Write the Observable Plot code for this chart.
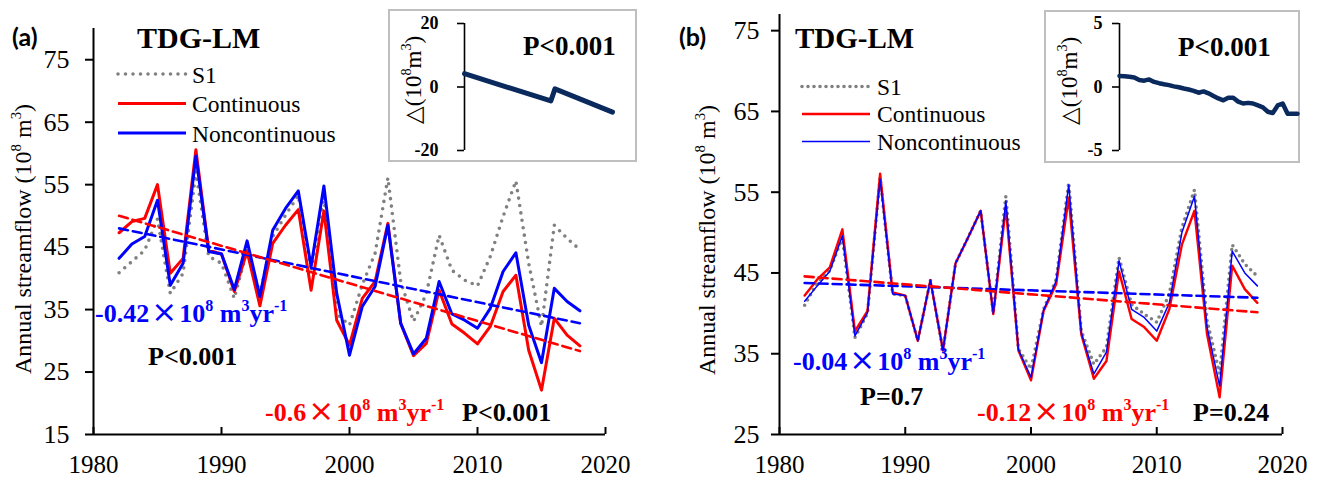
<!DOCTYPE html>
<html><head><meta charset="utf-8">
<script src="https://cdn.jsdelivr.net/npm/d3@7"></script>
<script src="https://cdn.jsdelivr.net/npm/@observablehq/plot@0.6"></script>
<style>
body{margin:0;background:#fff;}
#root{position:relative;width:1321px;height:479px;overflow:hidden;background:#fff;font-family:'Liberation Serif','Times New Roman',serif;}
.abs{position:absolute;}
.box{position:absolute;box-sizing:border-box;border:2px solid #bfbfbf;background:#fff;}
svg text{font-family:'Liberation Serif','Times New Roman',serif;}
</style></head><body><div id="root"></div>
<script>
// ---------- data ----------
const years = [1982,1983,1984,1985,1986,1987,1988,1989,1990,1991,1992,1993,1994,1995,1996,1997,1998,1999,2000,2001,2002,2003,2004,2005,2006,2007,2008,2009,2010,2011,2012,2013,2014,2015,2016,2017,2018];
// Panel (a)
const s1A   = [40.9,42.7,44.5,49.5,37.6,40.8,57.1,43.5,42.4,36.8,44.5,37.5,46.7,50.1,53.3,41.1,53.1,34.3,32.5,39.0,44.0,56.1,39.5,33.1,37.5,46.9,41.3,39.7,38.8,43.5,49.9,55.6,42.4,32.3,48.5,46.4,44.6];
const contA = [47.3,49.1,49.6,55.0,40.8,43.2,60.6,44.5,43.9,37.9,44.3,35.6,45.6,48.5,51.0,38.1,50.8,33.3,29.3,36.8,39.5,48.8,32.8,27.6,29.6,38.1,32.7,31.2,29.5,32.3,37.9,40.5,28.5,22.1,33.6,30.9,29.2];
const nonA  = [43.2,45.5,46.7,52.5,38.9,42.4,59.6,44.3,43.9,38.2,46.0,37.1,47.7,51.2,54.0,41.9,54.8,37.6,27.7,35.5,38.7,48.5,32.8,27.9,30.4,39.5,34.3,33.3,32.0,35.2,41.1,44.1,32.5,26.5,38.4,36.3,34.8];
// Panel (b)
const s1B   = [41.0,43.8,45.3,49.4,37.0,40.0,56.8,42.4,42.2,36.6,44.1,35.4,46.2,49.4,52.7,40.0,54.5,35.6,33.1,40.5,44.2,56.2,37.8,33.7,35.8,46.9,41.1,39.9,38.9,42.4,50.6,55.3,39.1,32.5,48.5,46.1,44.6];
const contB = [42.2,44.2,45.7,50.4,37.8,40.3,57.3,42.6,42.2,36.6,44.1,35.4,46.2,49.4,52.7,39.9,53.1,35.4,31.7,40.3,43.6,54.3,37.4,31.9,34.1,45.2,39.3,38.3,36.6,40.5,48.5,52.7,37.4,29.6,45.9,43.0,41.3];
const nonB  = [41.5,43.4,45.2,49.6,37.2,40.1,56.6,42.4,42.2,36.6,44.1,35.4,46.2,49.4,52.7,40.0,53.9,35.5,32.1,40.4,44.0,55.9,37.6,32.5,35.2,46.5,40.5,39.5,37.8,41.3,50.0,54.5,38.3,31.0,47.7,45.0,43.4];
// Insets (difference series)
const insetAYears = [1982,2003,2004,2018];
const insetAVals  = [4.2,-4.4,-0.6,-7.9];
const insetBVals  = [0.87,0.85,0.8,0.75,0.55,0.5,0.6,0.4,0.3,0.22,0.15,0.05,-0.02,-0.12,-0.2,-0.3,-0.45,-0.35,-0.5,-0.7,-0.9,-1.05,-0.85,-0.85,-1.15,-1.3,-1.25,-1.3,-1.45,-1.6,-1.95,-2.05,-1.45,-1.3,-2.1,-2.1,-2.1];
// ticks
const xTicks = [1980,1990,2000,2010,2020];
const yTicksA = [15,25,35,45,55,65,75];
const yTicksB = [25,35,45,55,65,75];
const insetATicks = [-20,0,20];
const insetBTicks = [-5,0,5];

// ---------- helpers ----------
const SERIF = "'Liberation Serif', 'Times New Roman', serif";
const root = document.getElementById("root");
function place(node, left, top) {
  const d = document.createElement("div");
  d.className = "abs"; d.style.left = left + "px"; d.style.top = top + "px";
  d.appendChild(node); root.appendChild(d); return d;
}
function rowsOf(s1, cont, non) { return years.map((y, i) => ({year: y, s1: s1[i], cont: cont[i], non: non[i]})); }

function mainPanel(rows, cfg) {
  const ymin = cfg.ydom[0];
  return Plot.plot({
    width: cfg.width, height: 479,
    marginLeft: cfg.ml, marginRight: cfg.mr, marginTop: cfg.mt, marginBottom: 45,
    style: {fontFamily: SERIF, fontSize: "25px", color: "#000", background: "transparent", overflow: "visible"},
    x: {domain: [1980, 2020]},
    y: {domain: cfg.ydom},
    marks: [
      Plot.line(rows, {x: "year", y: "s1", stroke: "#808080", strokeWidth: 3.6, strokeDasharray: cfg.dots, strokeLinecap: "round"}),
      Plot.line(rows, {x: "year", y: "cont", stroke: "#ff0000", strokeWidth: cfg.rw}),
      Plot.line(rows, {x: "year", y: "non", stroke: "#0000ff", strokeWidth: cfg.bw}),
      Plot.linearRegressionY(rows, {x: "year", y: "non", stroke: "#0000ff", strokeWidth: 2.6, strokeDasharray: "9 5", ci: 0}),
      Plot.linearRegressionY(rows, {x: "year", y: "cont", stroke: "#ff0000", strokeWidth: 2.6, strokeDasharray: "9 5", ci: 0}),
      Plot.axisY({ticks: cfg.yticks, tickSize: 8, tickPadding: cfg.ypad, strokeWidth: 2, tickFormat: d => String(d), label: null, fontSize: 26}),
      Plot.axisX({ticks: xTicks, tickSize: 0, tickPadding: 21, tickFormat: d => String(d), label: null}),
      Plot.ruleX(xTicks, {x: d => d, y1: ymin, y2: ymin, insetTop: -7, strokeWidth: 2}),
      Plot.ruleX([1980], {strokeWidth: 2}),
      Plot.ruleY([ymin], {strokeWidth: 2})
    ]
  });
}
function insetPanel(data, cfg) {
  return Plot.plot({
    width: cfg.width, height: cfg.height,
    marginLeft: cfg.ml, marginRight: cfg.mr, marginTop: cfg.mt, marginBottom: cfg.mb,
    style: {fontFamily: SERIF, fontSize: "18px", fontWeight: "bold", color: "#000", background: "transparent", overflow: "visible"},
    x: {domain: [1982, 2018], axis: null},
    y: {domain: cfg.ydom, axis: null},
    marks: [
      Plot.ruleX([1982], {strokeWidth: 1.6}),
      Plot.axisY({ticks: cfg.ticks, tickSize: 7, tickPadding: cfg.pad, strokeWidth: 1.6, tickFormat: d => String(d), label: null, fontWeight: "bold"}),
      Plot.line(data, {x: "year", y: "v", stroke: "#0a2a5e", strokeWidth: cfg.sw, strokeLinejoin: "round"})
    ]
  });
}

// ---------- main panels ----------
place(mainPanel(rowsOf(s1A, contA, nonA), {width: 660, ml: 93, mr: 55, mt: 28, ydom: [15, 80], yticks: yTicksA, ypad: 16, rw: 3, bw: 3, dots: "0 7.5"}), 0, 0);
place(mainPanel(rowsOf(s1B, contB, nonB), {width: 661, ml: 119, mr: 39, mt: 14, ydom: [25, 77], yticks: yTicksB, ypad: 12, rw: 2.4, bw: 1.5, dots: "0 6"}), 660, 0);

// ---------- insets ----------
function box(l, t, w, h) { const d = document.createElement("div"); d.className = "box"; d.style.left = l + "px"; d.style.top = t + "px"; d.style.width = w + "px"; d.style.height = h + "px"; root.appendChild(d); }
box(388, 9, 249, 153);
place(insetPanel(insetAYears.map((y, i) => ({year: y, v: insetAVals[i]})), {width: 249, height: 153, ml: 76, mr: 25, mt: 14, mb: 12, ydom: [-20, 20], ticks: insetATicks, pad: 19, sw: 5}), 388, 9);
box(1044, 10, 256, 153);
place(insetPanel(years.map((y, i) => ({year: y, v: insetBVals[i]})), {width: 256, height: 153, ml: 75, mr: 3, mt: 13, mb: 13, ydom: [-5, 5], ticks: insetBTicks, pad: 10, sw: 4.5}), 1044, 10);

// ---------- overlay text & legend ----------
const svg = d3.select(root).append("svg").attr("width", 1321).attr("height", 479)
  .style("position", "absolute").style("left", "0px").style("top", "0px").style("pointer-events", "none");

function addText(x, y, parts, o) {
  const t = svg.append("text").attr("x", x).attr("y", y).attr("font-size", o.size)
    .attr("font-weight", o.bold ? "bold" : "normal").attr("fill", o.fill || "#000")
    .attr("text-anchor", o.anchor || "start");
  t.style("font-family", o.family || SERIF);
  if (o.rotate) t.attr("transform", `rotate(-90 ${x} ${y})`);
  let shifted = 0;
  for (const p of parts) {
    const s = typeof p === "string" ? {t: p} : p;
    const ts = t.append("tspan").text(s.t);
    const target = s.sup ? -o.size * 0.42 : 0;
    const dy = target - shifted; shifted = target;
    if (dy) ts.attr("dy", dy);
    if (s.sup) ts.attr("font-size", o.size * 0.62);
    if (s.family) ts.style("font-family", s.family);
    if (s.size) ts.attr("font-size", s.size);
    if (s.weight) ts.attr("font-weight", s.weight);
    if (s.dx) ts.attr("dx", s.dx);
  }
  return t;
}
const X = {t: "×", family: "'DejaVu Sans', sans-serif", weight: "normal", size: 31, dx: 2};
function slope(v) { return [v, X, {t: "10", dx: 2}, {t: "8", sup: true}, " m", {t: "3", sup: true}, "yr", {t: "-1", sup: true}]; }
const yLab = ["Annual streamflow (10", {t: "8", sup: true}, " m", {t: "3", sup: true}, ")"];
const dLab = ["△(10", {t: "8", sup: true}, "m", {t: "3", sup: true}, ")"];

// Panel (a)
addText(12, 46, ["(a)"], {size: 25, bold: true, family: "Lato, 'Open Sans', sans-serif"});
addText(137, 48, ["TDG-LM"], {size: 30, bold: true});
addText(31, 239, yLab, {size: 24, rotate: true, anchor: "middle"});
addText(95, 322, slope("-0.42"), {size: 26, bold: true, fill: "#0000ff"});
addText(148, 365, ["P<0.001"], {size: 26, bold: true});
addText(265, 421, slope("-0.6"), {size: 26, bold: true, fill: "#ff0000"});
addText(462, 421, ["P<0.001"], {size: 26, bold: true});
addText(523, 55, ["P<0.001"], {size: 27, bold: true});
addText(421, 80, dLab, {size: 23, rotate: true, anchor: "middle"});
// Legend (a)
const legA = [{lab: "S1", y: 74, c: "#808080", dash: "0 7.5", w: 3.6}, {lab: "Continuous", y: 103.5, c: "#ff0000", w: 3}, {lab: "Noncontinuous", y: 133, c: "#0000ff", w: 3}];
for (const l of legA) {
  svg.append("line").attr("x1", 118).attr("x2", 186).attr("y1", l.y).attr("y2", l.y).attr("stroke", l.c).attr("stroke-width", l.w)
    .attr("stroke-dasharray", l.dash || null).attr("stroke-linecap", l.dash ? "round" : "butt");
  addText(192, l.y + 8.5, [l.lab], {size: 23.5});
}

// Panel (b)
addText(679, 46, ["(b)"], {size: 25, bold: true, family: "Lato, 'Open Sans', sans-serif"});
addText(795, 48, ["TDG-LM"], {size: 29, bold: true});
addText(715, 240, yLab, {size: 24, rotate: true, anchor: "middle"});
addText(793, 370, slope("-0.04"), {size: 26, bold: true, fill: "#0000ff"});
addText(860, 405, ["P=0.7"], {size: 26, bold: true});
addText(977, 421, slope("-0.12"), {size: 26, bold: true, fill: "#ff0000"});
addText(1193, 421, ["P=0.24"], {size: 26, bold: true});
addText(1178, 56, ["P<0.001"], {size: 27, bold: true});
addText(1077, 81, dLab, {size: 23, rotate: true, anchor: "middle"});
const legB = [{lab: "S1", y: 86.5, c: "#808080", dash: "0 6", w: 3.6}, {lab: "Continuous", y: 114, c: "#ff0000", w: 2.4}, {lab: "Noncontinuous", y: 141.5, c: "#0000ff", w: 1.5}];
for (const l of legB) {
  svg.append("line").attr("x1", 802).attr("x2", 870).attr("y1", l.y).attr("y2", l.y).attr("stroke", l.c).attr("stroke-width", l.w)
    .attr("stroke-dasharray", l.dash || null).attr("stroke-linecap", l.dash ? "round" : "butt");
  addText(877, l.y + 8, [l.lab], {size: 23.5});
}
</script>
</body></html>
